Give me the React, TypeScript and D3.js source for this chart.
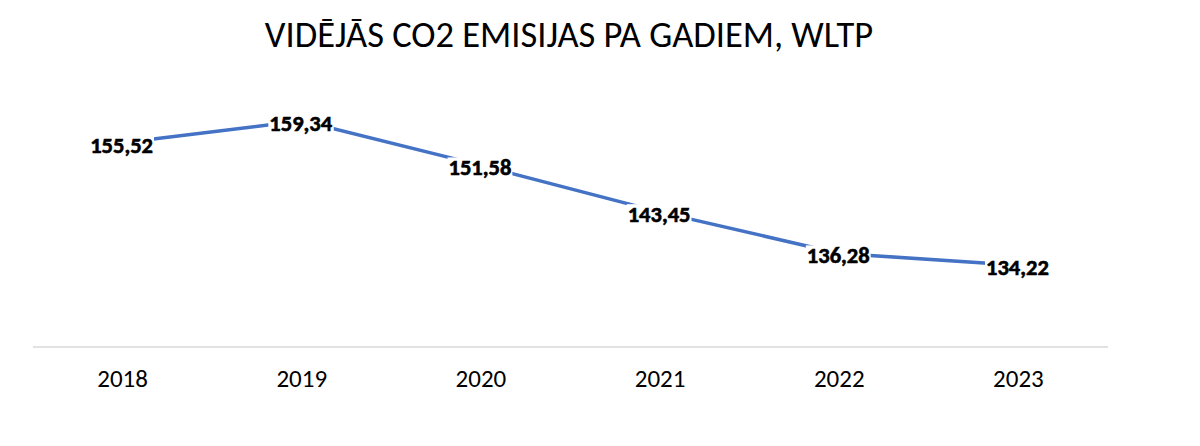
import React, { useEffect, useRef } from 'react';
import * as d3 from 'd3';

const years = ['2018', '2019', '2020', '2021', '2022', '2023'];
const emissions = [155.52, 159.34, 151.58, 143.45, 136.28, 134.22];
const title = 'VIDĒJĀS CO2 EMISIJAS PA GADIEM, WLTP';

const W = 1200;
const H = 446;
const FONT = 'Carlito, Calibri, Lato, sans-serif';

const App = () => {
  const ref = useRef<SVGSVGElement>(null);

  useEffect(() => {
    const svg = d3.select(ref.current);
    svg.selectAll('*').remove();

    const margin = { top: 117, right: 92, bottom: 99, left: 33 };
    const x = d3.scaleBand().domain(years).range([margin.left, W - margin.right]);
    const y = d3.scaleLinear().domain([120, 160]).range([H - margin.bottom, margin.top]);
    const cx = (d: string) => (x(d) as number) + x.bandwidth() / 2;

    svg.append('text')
      .attr('x', 569)
      .attr('y', 47)
      .attr('text-anchor', 'middle')
      .style('font-family', FONT)
      .style('font-size', '36.5px')
      .attr('fill', '#000')
      .text(title);

    // category axis
    svg.append('line')
      .attr('x1', margin.left)
      .attr('x2', W - margin.right)
      .attr('y1', y(120))
      .attr('y2', y(120))
      .attr('stroke', '#d9d9d9')
      .attr('stroke-width', 1.5);

    svg.append('g')
      .selectAll('text')
      .data(years)
      .join('text')
      .attr('x', (d) => cx(d))
      .attr('y', 387)
      .attr('text-anchor', 'middle')
      .style('font-family', FONT)
      .style('font-size', '25px')
      .attr('fill', '#000')
      .text((d) => d);

    const line = d3.line<number>()
      .x((_, i) => cx(years[i]))
      .y((d) => y(d));

    svg.append('path')
      .datum(emissions)
      .attr('d', line)
      .attr('fill', 'none')
      .attr('stroke', '#4472c4')
      .attr('stroke-width', 3.5);

    // data labels with white boxes (they hide the line underneath)
    const labels = svg.append('g')
      .selectAll('g')
      .data(emissions)
      .join('g')
      .attr('transform', (d, i) => `translate(${cx(years[i]) - 1},${y(d)})`);

    const txt = labels.append('text')
      .attr('text-anchor', 'middle')
      .attr('y', 10)
      .style('font-family', FONT)
      .style('font-size', '22.5px')
      .style('font-weight', 'bold')
      .attr('fill', '#000')
      .attr('stroke', '#000')
      .attr('stroke-width', 0.6)
      .text((d) => d.toFixed(2).replace('.', ','));

    txt.each(function () {
      const bb = (this as SVGTextElement).getBBox();
      d3.select((this as SVGTextElement).parentNode as SVGGElement)
        .insert('rect', 'text')
        .attr('x', bb.x - 1)
        .attr('y', bb.y + 3)
        .attr('width', bb.width + 2)
        .attr('height', bb.height - 6)
        .attr('fill', '#fff');
    });
  }, []);

  return <svg ref={ref} width={W} height={H} style={{ display: 'block', margin: -8 }} />;
};

export default App;
